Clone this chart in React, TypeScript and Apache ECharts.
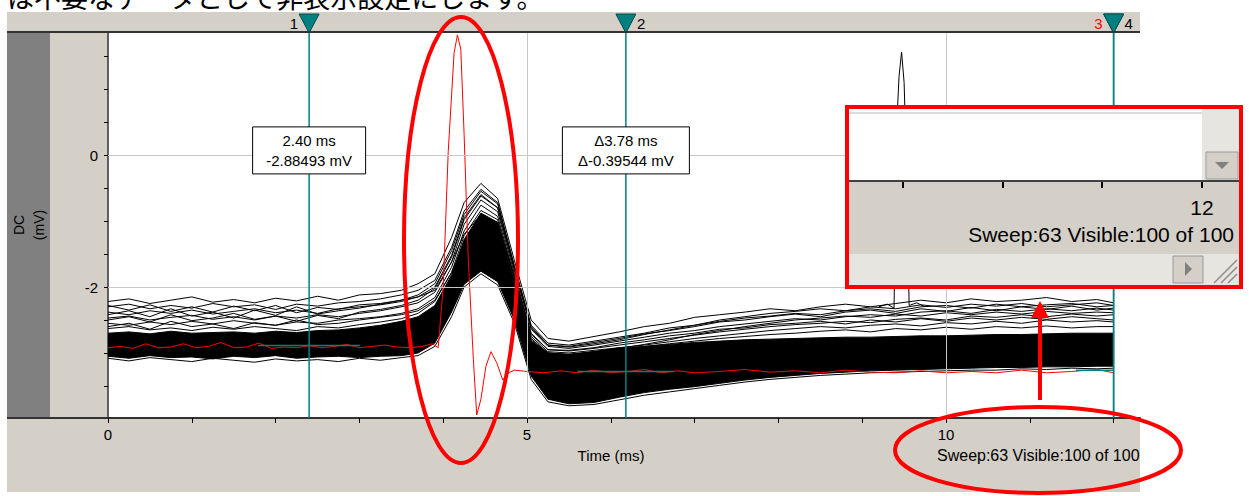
import React, { useEffect, useRef } from 'react';
import * as echarts from 'echarts';

// ---------- data ----------
const TIME_MS = [0, 0.25, 0.5, 0.75, 1.0, 1.25, 1.5, 1.75, 2.0, 2.25, 2.5, 2.75, 3.0, 3.25, 3.5,
  3.7, 3.9, 4.1, 4.25, 4.45, 4.65, 4.85, 5.05, 5.25, 5.5,
  5.8, 6.1, 6.4, 6.7, 7.0, 7.3, 7.6, 7.9, 8.2, 8.5, 8.8, 9.1, 9.4, 9.7, 10.0, 10.3, 10.6, 10.9, 11.2, 11.5, 11.8, 12.0];

// upper fringe sweeps (individually visible)
const SWEEP_F1 = [-2.22, -2.18, -2.25, -2.2, -2.15, -2.23, -2.19, -2.24, -2.17, -2.21, -2.14, -2.2, -2.12, -2.1, -2.05,
  -1.95, -1.8, -1.25, -0.72, -0.43, -0.66, -1.6, -2.5, -2.78, -2.82,
  -2.75, -2.68, -2.6, -2.55, -2.46, -2.42, -2.38, -2.33, -2.36, -2.3, -2.26, -2.3, -2.25, -2.2, -2.24, -2.18, -2.22, -2.2, -2.16, -2.22, -2.19, -2.24];
const SWEEP_F2 = [-2.3, -2.26, -2.33, -2.28, -2.32, -2.25, -2.3, -2.27, -2.34, -2.26, -2.29, -2.24, -2.22, -2.18, -2.12,
  -2.05, -1.9, -1.4, -0.85, -0.52, -0.72, -1.68, -2.58, -2.85, -2.88,
  -2.82, -2.76, -2.7, -2.62, -2.58, -2.52, -2.47, -2.44, -2.4, -2.42, -2.36, -2.33, -2.37, -2.3, -2.28, -2.32, -2.26, -2.3, -2.27, -2.25, -2.3, -2.28];
const SWEEP_F3 = [-2.38, -2.42, -2.36, -2.4, -2.35, -2.41, -2.37, -2.33, -2.39, -2.35, -2.4, -2.33, -2.3, -2.27, -2.22,
  -2.15, -2.0, -1.52, -0.95, -0.6, -0.8, -1.75, -2.64, -2.9, -2.93,
  -2.88, -2.82, -2.76, -2.7, -2.66, -2.6, -2.56, -2.52, -2.48, -2.5, -2.45, -2.42, -2.44, -2.38, -2.36, -2.4, -2.34, -2.37, -2.33, -2.36, -2.32, -2.35];
const SWEEP_F4 = [-2.47, -2.44, -2.5, -2.46, -2.43, -2.49, -2.45, -2.5, -2.44, -2.47, -2.42, -2.45, -2.4, -2.36, -2.3,
  -2.24, -2.08, -1.62, -1.05, -0.68, -0.86, -1.8, -2.7, -2.95, -2.97,
  -2.93, -2.88, -2.83, -2.78, -2.73, -2.68, -2.64, -2.6, -2.57, -2.55, -2.52, -2.54, -2.49, -2.47, -2.5, -2.44, -2.46, -2.42, -2.45, -2.41, -2.44, -2.42];
const SWEEP_F5 = [-2.55, -2.58, -2.53, -2.57, -2.52, -2.56, -2.51, -2.55, -2.58, -2.53, -2.55, -2.5, -2.48, -2.45, -2.4,
  -2.33, -2.16, -1.7, -1.15, -0.76, -0.93, -1.85, -2.75, -2.98, -3.0,
  -2.96, -2.92, -2.88, -2.83, -2.78, -2.74, -2.7, -2.66, -2.63, -2.6, -2.62, -2.58, -2.56, -2.59, -2.54, -2.56, -2.52, -2.55, -2.5, -2.53, -2.51, -2.53];
const SWEEP_F6 = [-2.63, -2.6, -2.65, -2.62, -2.66, -2.61, -2.64, -2.6, -2.63, -2.66, -2.6, -2.62, -2.57, -2.53, -2.48,
  -2.4, -2.22, -1.78, -1.22, -0.84, -0.98, -1.88, -2.78, -3.0, -3.02,
  -2.98, -2.95, -2.9, -2.86, -2.82, -2.78, -2.75, -2.72, -2.7, -2.67, -2.65, -2.68, -2.63, -2.65, -2.61, -2.64, -2.6, -2.62, -2.59, -2.62, -2.6, -2.6];
// crossing fringe sweeps
const SWEEP_G1 = [-2.42, -2.36, -2.45, -2.33, -2.44, -2.38, -2.47, -2.35, -2.43, -2.3, -2.41, -2.36, -2.32, -2.26, -2.2,
  -2.12, -1.95, -1.45, -0.9, -0.55, -0.74, -1.7, -2.6, -2.88, -2.9,
  -2.84, -2.78, -2.71, -2.66, -2.6, -2.53, -2.5, -2.45, -2.41, -2.45, -2.38, -2.35, -2.4, -2.33, -2.37, -2.31, -2.36, -2.3, -2.34, -2.29, -2.35, -2.32];
const SWEEP_G2 = [-2.28, -2.35, -2.27, -2.37, -2.3, -2.38, -2.29, -2.36, -2.28, -2.39, -2.31, -2.34, -2.27, -2.25, -2.2,
  -2.15, -2.05, -1.62, -1.2, -0.9, -1.05, -1.85, -2.72, -2.95, -2.96,
  -2.92, -2.85, -2.8, -2.74, -2.7, -2.64, -2.62, -2.57, -2.55, -2.52, -2.56, -2.5, -2.53, -2.48, -2.52, -2.47, -2.5, -2.46, -2.49, -2.45, -2.48, -2.5];
const SWEEP_G3 = [-2.5, -2.45, -2.53, -2.42, -2.51, -2.47, -2.4, -2.49, -2.44, -2.52, -2.43, -2.48, -2.38, -2.34, -2.28,
  -2.2, -2.02, -1.55, -0.98, -0.62, -0.8, -1.72, -2.62, -2.88, -2.91,
  -2.86, -2.8, -2.72, -2.65, -2.58, -2.5, -2.45, -2.4, -2.37, -2.33, -2.36, -2.3, -2.33, -2.27, -2.31, -2.26, -2.29, -2.25, -2.3, -2.27, -2.24, -2.28];
const SWEEP_G4 = [-2.6, -2.55, -2.64, -2.52, -2.6, -2.56, -2.63, -2.54, -2.58, -2.5, -2.57, -2.55, -2.5, -2.46, -2.42,
  -2.36, -2.2, -1.78, -1.35, -1.1, -1.2, -1.95, -2.8, -3.0, -3.03,
  -2.98, -2.93, -2.87, -2.8, -2.72, -2.66, -2.6, -2.55, -2.5, -2.47, -2.44, -2.46, -2.41, -2.44, -2.39, -2.42, -2.38, -2.41, -2.37, -2.4, -2.38, -2.39];
// lower fringe sweep
const SWEEP_L1 = [-3.08, -3.12, -3.07, -3.1, -3.13, -3.08, -3.11, -3.14, -3.09, -3.12, -3.1, -3.13, -3.08, -3.11, -3.07,
  -3.04, -2.9, -2.45, -2.0, -1.8, -1.97, -2.55, -3.4, -3.74, -3.8,
  -3.78, -3.71, -3.64, -3.59, -3.54, -3.49, -3.44, -3.4, -3.37, -3.34, -3.32, -3.3, -3.29, -3.28, -3.27, -3.26, -3.26, -3.24, -3.25, -3.23, -3.24, -3.23];
// dense core of the ~100 overlapping sweeps (upper and lower edges)
const CORE_UPPER = [-2.7, -2.68, -2.71, -2.67, -2.7, -2.69, -2.68, -2.7, -2.67, -2.69, -2.66, -2.65, -2.62, -2.58, -2.52,
  -2.45, -2.28, -1.82, -1.28, -0.88, -1.02, -1.92, -2.82, -3.0, -3.02,
  -2.98, -2.92, -2.9, -2.87, -2.84, -2.82, -2.8, -2.79, -2.78, -2.77, -2.76, -2.76, -2.75, -2.74, -2.74, -2.73, -2.72, -2.72, -2.71, -2.7, -2.7, -2.7];
const CORE_LOWER = [-3.05, -3.08, -3.04, -3.07, -3.06, -3.09, -3.05, -3.07, -3.04, -3.08, -3.06, -3.05, -3.07, -3.05, -3.04,
  -3.0, -2.85, -2.38, -1.96, -1.76, -1.92, -2.5, -3.35, -3.7, -3.77,
  -3.75, -3.67, -3.6, -3.55, -3.51, -3.46, -3.41, -3.37, -3.34, -3.31, -3.29, -3.27, -3.26, -3.25, -3.24, -3.23, -3.22, -3.22, -3.21, -3.21, -3.2, -3.2];

// single sweep with an artefact spike
const SPIKE_T = [9.2, 9.3, 9.38, 9.41, 9.44, 9.47, 9.5, 9.53, 9.56, 9.65, 9.75];
const SPIKE_V = [-2.3, -2.26, -2.32, 0.4, 1.2, 1.56, 1.1, -0.2, -2.28, -2.24, -2.3];

// highlighted (red) sweep
const RED_T = [0, 0.15, 0.3, 0.45, 0.6, 0.75, 0.9, 1.05, 1.2, 1.35, 1.5, 1.65, 1.8, 1.95, 2.1, 2.25, 2.4, 2.55, 2.7, 2.85,
  3.0, 3.15, 3.3, 3.45, 3.6, 3.75, 3.87, 3.94, 4.0, 4.06, 4.13, 4.17, 4.21, 4.25, 4.3, 4.36, 4.4, 4.45, 4.51, 4.57,
  4.64, 4.71, 4.78, 4.85, 5.0, 5.2, 5.4, 5.6, 5.8, 6.0, 6.2, 6.4, 6.6, 6.8, 7.0, 7.3, 7.6, 7.9, 8.2, 8.5,
  8.8, 9.1, 9.4, 9.7, 10.0, 10.3, 10.6, 10.9, 11.2, 11.5, 11.8, 12.0];
const RED_V = [-2.92, -2.9, -2.93, -2.86, -2.92, -2.91, -2.86, -2.92, -2.9, -2.84, -2.92, -2.91, -2.85, -2.93, -2.91, -2.92, -2.89, -2.92, -2.9, -2.87,
  -2.92, -2.9, -2.88, -2.91, -2.92, -2.9, -2.86, -2.92, -2.0, 0.05, 1.55, 1.82, 1.6, 0.3, -1.6, -3.1, -3.94, -3.7, -3.2, -2.98,
  -3.15, -3.41, -3.3, -3.26, -3.28, -3.3, -3.27, -3.3, -3.26, -3.3, -3.28, -3.25, -3.3, -3.27, -3.3, -3.28, -3.25, -3.29, -3.27, -3.3,
  -3.26, -3.29, -3.3, -3.27, -3.3, -3.28, -3.3, -3.26, -3.3, -3.28, -3.25, -3.3];

// cursors
const CURSOR_T = [2.40, 6.18, 12.0, 12.0];
const CURSOR_NAMES = ['1', '2', '3', '4'];
const CURSOR_NAME_COLORS = ['#000', '#000', '#ff0000', '#000'];
const CURSOR_NAME_SIDE = ['left', 'right', 'left', 'right'];
const CURSOR_LEVEL = [-2.885, -3.28, null, -3.26];
const CURSOR_SPAN = [[1.79, 3.01], [5.6, 6.75], null, [11.55, 12.0]];
const READOUTS = [['2.40 ms', '-2.88493 mV'], ['\u03943.78 ms', '\u0394-0.39544 mV'], null, null];
const READOUT_LEVEL = 0.07;

// axes
const X_MAX = 12.315;
const Y_MIN = -3.985;
const Y_MAX = 1.864;
const X_TICKS = [0, 1, 2, 3, 4, 5, 6, 7, 8, 9, 10, 11, 12];
const X_LABELS = [0, 5, 10];
const Y_TICKS = [-3.5, -3, -2.5, -2, -1.5, -1, -0.5, 0, 0.5, 1, 1.5];
const Y_LABELS = [-2, 0];
const GRID_X = [5, 10];
const GRID_Y = [0, -2];

const TEAL = '#008080';
const RED = '#ff0000';
const PANEL = '#d4d0c8';
const FONT = '"Liberation Sans", Arial, sans-serif';

const pairs = (xs: number[], ys: number[]) => xs.map((x, i) => [x, ys[i]]);

export default function App() {
  const ref = useRef<HTMLDivElement>(null);

  useEffect(() => {
    document.body.style.margin = '0';
    const chart = echarts.init(ref.current as HTMLDivElement, null, { renderer: 'svg' });

    const sweeps = [SWEEP_F1, SWEEP_G2, SWEEP_F2, SWEEP_G1, SWEEP_F3, SWEEP_G3, SWEEP_F4, SWEEP_G4, SWEEP_F5, SWEEP_F6, CORE_UPPER, CORE_LOWER, SWEEP_L1];
    const sweepSeries = sweeps.map((arr, k) => ({
      type: 'line',
      name: 'sweep' + k,
      data: pairs(TIME_MS, arr),
      symbol: 'none',
      silent: true,
      z: 3,
      lineStyle: { color: '#000', width: 1 },
    }));

    const option: any = {
      animation: false,
      backgroundColor: '#fff',
      grid: { left: 108, top: 32, width: 1032, height: 386, show: false, outerBoundsMode: 'none' },
      xAxis: {
        type: 'value', min: 0, max: X_MAX,
        axisLine: { show: true, onZero: false, lineStyle: { color: '#333', width: 2 } },
        axisTick: { show: true, customValues: X_TICKS, length: 5, lineStyle: { color: '#000', width: 1 } },
        axisLabel: { customValues: X_LABELS, color: '#000', fontSize: 15, fontFamily: FONT, margin: 9 },
        splitLine: { show: false },
      },
      yAxis: {
        type: 'value', min: Y_MIN, max: Y_MAX,
        axisLine: { show: true, onZero: false, lineStyle: { color: '#333', width: 1.5 } },
        axisTick: { show: true, customValues: Y_TICKS, length: 4, lineStyle: { color: '#000', width: 1 } },
        axisLabel: { customValues: Y_LABELS, color: '#000', fontSize: 15, fontFamily: FONT, margin: 10 },
        splitLine: { show: false },
      },
      series: [
        {
          type: 'line', name: 'grid', data: [], z: 1, silent: true,
          markLine: {
            silent: true, symbol: ['none', 'none'], label: { show: false },
            lineStyle: { color: '#c8c8c8', width: 1, type: 'solid' },
            data: [...GRID_X.map((v) => ({ xAxis: v })), ...GRID_Y.map((v) => ({ yAxis: v }))],
          },
        },
        {
          type: 'custom', name: 'core', z: 2, silent: true, data: [[0, 0]],
          renderItem: (params: any, api: any) => {
            const up = TIME_MS.map((t, i) => api.coord([t, CORE_UPPER[i]]));
            const lo = TIME_MS.map((t, i) => api.coord([t, CORE_LOWER[i]])).reverse();
            return { type: 'polygon', shape: { points: up.concat(lo) }, style: { fill: '#000' } };
          },
        },
        ...sweepSeries,
        {
          type: 'line', name: 'spike', data: pairs(SPIKE_T, SPIKE_V), symbol: 'none', silent: true, z: 3,
          lineStyle: { color: '#000', width: 1 },
        },
        {
          type: 'line', name: 'highlight', data: pairs(RED_T, RED_V), symbol: 'none', silent: true, z: 4,
          lineStyle: { color: RED, width: 1 },
        },
        {
          type: 'custom', name: 'cursors', z: 5, silent: true, clip: false,
          data: CURSOR_T.map((t, i) => [t, i]),
          renderItem: (params: any, api: any) => {
            const idx = params.dataIndex;
            const t = CURSOR_T[idx];
            const cs = params.coordSys;
            const x = api.coord([t, 0])[0];
            const top = cs.y;
            const bottom = cs.y + cs.height;
            const children: any[] = [];
            const span = CURSOR_SPAN[idx];
            const level = CURSOR_LEVEL[idx];
            if (span && level !== null) {
              const p1 = api.coord([span[0], level]);
              const p2 = api.coord([Math.min(span[1], X_MAX), level]);
              children.push({ type: 'line', shape: { x1: p1[0], y1: p1[1], x2: p2[0], y2: p2[1] }, style: { stroke: TEAL, lineWidth: 1.5 } });
            }
            children.push({ type: 'line', shape: { x1: x, y1: top, x2: x, y2: bottom }, style: { stroke: TEAL, lineWidth: 1.5 } });
            children.push({
              type: 'polygon',
              shape: { points: [[x - 10, top - 18], [x + 10, top - 18], [x, top + 1]] },
              style: { fill: TEAL, stroke: '#004c4c', lineWidth: 1 },
            });
            const left = CURSOR_NAME_SIDE[idx] === 'left';
            children.push({
              type: 'text', x: left ? x - 11 : x + 11, y: top - 9,
              style: { text: CURSOR_NAMES[idx], fill: CURSOR_NAME_COLORS[idx], font: `15px ${FONT}`, align: left ? 'right' : 'left', verticalAlign: 'middle' },
            });
            const ro = READOUTS[idx];
            if (ro) {
              const cy = api.coord([t, READOUT_LEVEL])[1];
              const w = idx === 0 ? 113 : 127;
              const h = 47;
              children.push({ type: 'rect', shape: { x: x - w / 2, y: cy - h / 2, width: w, height: h }, style: { fill: '#fff', stroke: '#000', lineWidth: 1 } });
              children.push({ type: 'text', x, y: cy - 10, style: { text: ro[0], fill: '#000', font: `15px ${FONT}`, align: 'center', verticalAlign: 'middle' } });
              children.push({ type: 'text', x, y: cy + 10, style: { text: ro[1], fill: '#000', font: `15px ${FONT}`, align: 'center', verticalAlign: 'middle' } });
            }
            return { type: 'group', children };
          },
        },
      ],
      graphic: {
        elements: [
          // window chrome (behind the plot)
          { type: 'rect', z: 0, silent: true, shape: { x: 7, y: 12, width: 1133, height: 480 }, style: { fill: PANEL } },
          { type: 'rect', z: 0, silent: true, shape: { x: 7, y: 33, width: 43, height: 385 }, style: { fill: '#808080' } },
          { type: 'rect', z: 0, silent: true, shape: { x: 108, y: 32, width: 1032, height: 386 }, style: { fill: '#fff' } },
          { type: 'line', z: 50, silent: true, shape: { x1: 7, y1: 32, x2: 1140, y2: 32 }, style: { stroke: '#333', lineWidth: 2 } },
          { type: 'line', z: 50, silent: true, shape: { x1: 7, y1: 418, x2: 108, y2: 418 }, style: { stroke: '#333', lineWidth: 2 } },
          {
            type: 'text', z: 50, silent: true, x: 29, y: 225, rotation: Math.PI / 2,
            style: { text: 'DC\n(mV)', fill: '#000', font: `14px ${FONT}`, align: 'center', verticalAlign: 'middle', lineHeight: 20 },
          },
          { type: 'text', z: 50, silent: true, x: 611, y: 455, style: { text: 'Time (ms)', fill: '#000', font: `15px ${FONT}`, align: 'center', verticalAlign: 'middle' } },
          { type: 'text', z: 50, silent: true, x: 937, y: 455, style: { text: 'Sweep:63 Visible:100 of 100', fill: '#000', font: `16px ${FONT}`, align: 'left', verticalAlign: 'middle' } },
          {
            type: 'text', z: 50, silent: true, x: 7, y: -3.5,
            style: { text: 'は不要なデータとして非表示設定にします。', fill: '#000', font: '27px "Noto Sans CJK JP", sans-serif', align: 'left', verticalAlign: 'middle' },
          },

          // red annotations
          { type: 'ellipse', z: 100, silent: true, shape: { cx: 461, cy: 240, rx: 57, ry: 223 }, style: { fill: 'none', stroke: RED, lineWidth: 4 } },
          { type: 'ellipse', z: 100, silent: true, shape: { cx: 1038, cy: 450, rx: 143, ry: 43 }, style: { fill: 'none', stroke: RED, lineWidth: 4 } },
          { type: 'line', z: 100, silent: true, shape: { x1: 1040, y1: 400, x2: 1040, y2: 314 }, style: { stroke: RED, lineWidth: 4 } },
          { type: 'polygon', z: 100, silent: true, shape: { points: [[1040, 301], [1031, 318], [1049, 318]] }, style: { fill: RED } },

          // magnified inset
          { type: 'rect', z: 100, silent: true, shape: { x: 849, y: 109, width: 353, height: 72 }, style: { fill: '#fff' } },
          { type: 'line', z: 100, silent: true, shape: { x1: 849, y1: 113, x2: 1202, y2: 113 }, style: { stroke: '#cfcfcf', lineWidth: 1.5 } },
          { type: 'rect', z: 100, silent: true, shape: { x: 1202, y: 109, width: 37, height: 72 }, style: { fill: '#e7e5e0' } },
          { type: 'rect', z: 101, silent: true, shape: { x: 1206, y: 152, width: 32, height: 27 }, style: { fill: PANEL, stroke: '#9a9a9a', lineWidth: 1 } },
          { type: 'polygon', z: 102, silent: true, shape: { points: [[1215, 162], [1229, 162], [1222, 169]] }, style: { fill: '#808080' } },
          { type: 'rect', z: 100, silent: true, shape: { x: 849, y: 181, width: 390, height: 73 }, style: { fill: PANEL } },
          { type: 'line', z: 101, silent: true, shape: { x1: 849, y1: 181, x2: 1239, y2: 181 }, style: { stroke: '#404040', lineWidth: 2 } },
          { type: 'line', z: 101, silent: true, shape: { x1: 903, y1: 182, x2: 903, y2: 188 }, style: { stroke: '#000', lineWidth: 2 } },
          { type: 'line', z: 101, silent: true, shape: { x1: 1003, y1: 182, x2: 1003, y2: 188 }, style: { stroke: '#000', lineWidth: 2 } },
          { type: 'line', z: 101, silent: true, shape: { x1: 1102, y1: 182, x2: 1102, y2: 188 }, style: { stroke: '#000', lineWidth: 2 } },
          { type: 'line', z: 101, silent: true, shape: { x1: 1202, y1: 182, x2: 1202, y2: 188 }, style: { stroke: '#000', lineWidth: 2 } },
          { type: 'text', z: 101, silent: true, x: 1202, y: 207, style: { text: '12', fill: '#000', font: `21px ${FONT}`, align: 'center', verticalAlign: 'middle' } },
          { type: 'text', z: 101, silent: true, x: 1234, y: 234, style: { text: 'Sweep:63 Visible:100 of 100', fill: '#000', font: `21px ${FONT}`, align: 'right', verticalAlign: 'middle' } },
          { type: 'rect', z: 100, silent: true, shape: { x: 849, y: 254, width: 390, height: 31 }, style: { fill: '#e7e5e0' } },
          { type: 'rect', z: 101, silent: true, shape: { x: 1173, y: 256, width: 30, height: 27 }, style: { fill: PANEL, stroke: '#9a9a9a', lineWidth: 1 } },
          { type: 'polygon', z: 102, silent: true, shape: { points: [[1185, 262], [1185, 276], [1192, 269]] }, style: { fill: '#808080' } },
          { type: 'line', z: 101, silent: true, shape: { x1: 1214, y1: 283, x2: 1237, y2: 260 }, style: { stroke: '#8a8a8a', lineWidth: 1.5 } },
          { type: 'line', z: 101, silent: true, shape: { x1: 1221, y1: 283, x2: 1237, y2: 267 }, style: { stroke: '#8a8a8a', lineWidth: 1.5 } },
          { type: 'line', z: 101, silent: true, shape: { x1: 1228, y1: 283, x2: 1237, y2: 274 }, style: { stroke: '#8a8a8a', lineWidth: 1.5 } },
          { type: 'rect', z: 103, silent: true, shape: { x: 847, y: 107, width: 394, height: 180 }, style: { fill: 'none', stroke: RED, lineWidth: 4 } },
        ],
      },
    };

    chart.setOption(option);
    return () => chart.dispose();
  }, []);

  return <div ref={ref} style={{ width: 1249, height: 496 }} />;
}
